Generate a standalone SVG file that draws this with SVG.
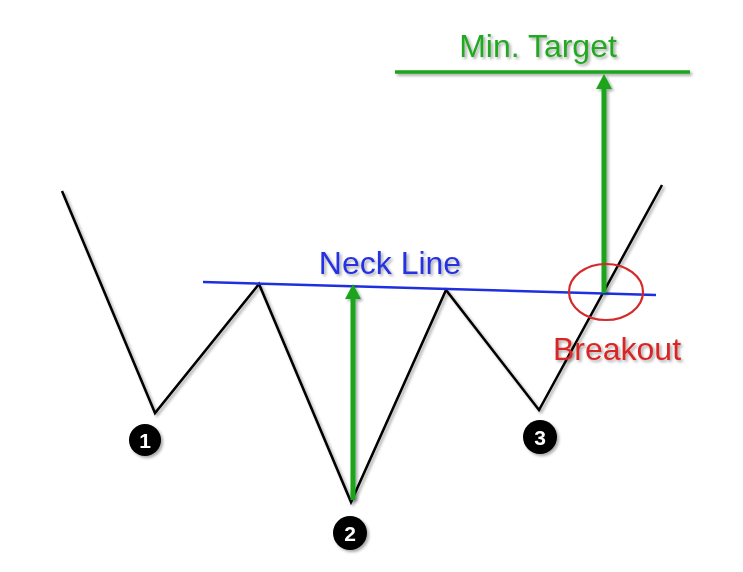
<svg xmlns="http://www.w3.org/2000/svg" width="743" height="572" viewBox="0 0 743 572">
<defs>
<filter id="sh" filterUnits="userSpaceOnUse" x="0" y="0" width="743" height="572">
<feGaussianBlur in="SourceAlpha" stdDeviation="1.5"/>
<feOffset dx="2" dy="2" result="b"/>
<feComponentTransfer><feFuncA type="linear" slope="0.35"/></feComponentTransfer>
<feMerge><feMergeNode/><feMergeNode in="SourceGraphic"/></feMerge>
</filter>
</defs>
<style>
.lbl{font-family:"Liberation Sans",Arial,sans-serif;font-size:32px;text-anchor:middle}
.num{font-family:"Liberation Sans",Arial,sans-serif;font-size:21px;font-weight:bold;fill:#fff;text-anchor:middle}
.dot{fill:#000}
.zz{fill:none;stroke:#000;stroke-width:2.5;stroke-linejoin:miter}
.garrow{stroke:#1ba51b;stroke-width:5;fill:none}
.ghead{fill:#1ba51b}
</style>
<rect width="743" height="572" fill="#fff"/>
<g id="connectors">
<polyline class="zz" filter="url(#sh)" points="62,191 155,413 259,284 351,502 446,290 539,410 662,185"/>
<line id="neckline" x1="203" y1="282" x2="656" y2="295" stroke="#1f2fe0" stroke-width="2.5"/>
<line id="target-line" x1="395" y1="72" x2="690" y2="72" stroke="#1ba51b" stroke-width="3.5" filter="url(#sh)"/>
<g filter="url(#sh)">
<line class="garrow" x1="353" y1="500" x2="353" y2="298"/>
<path class="ghead" d="M345,299 L353,284 L361,299 Z"/>
<line class="garrow" x1="604" y1="293" x2="604" y2="88"/>
<path class="ghead" d="M596,89 L604,74 L612,89 Z"/>
</g>
<ellipse id="breakout-circle" cx="606" cy="292" rx="37" ry="28" fill="none" stroke="#d42a2a" stroke-width="2.2"/>
</g>
<g id="label-min-target"><text class="lbl" x="538" y="57" fill="#20a820" filter="url(#sh)">Min. Target</text></g>
<g id="label-neck-line"><text class="lbl" x="390" y="274" fill="#2530e0" filter="url(#sh)">Neck Line</text></g>
<g id="label-breakout"><text class="lbl" x="617" y="360" fill="#d82525" filter="url(#sh)">Breakout</text></g>
<g id="node-1" filter="url(#sh)"><circle class="dot" cx="145" cy="440" r="16"/><text class="num" x="145" y="448">1</text></g>
<g id="node-2" filter="url(#sh)"><circle class="dot" cx="350" cy="533" r="17"/><text class="num" x="350" y="541">2</text></g>
<g id="node-3" filter="url(#sh)"><circle class="dot" cx="540" cy="437" r="17"/><text class="num" x="540" y="445">3</text></g>
</svg>
